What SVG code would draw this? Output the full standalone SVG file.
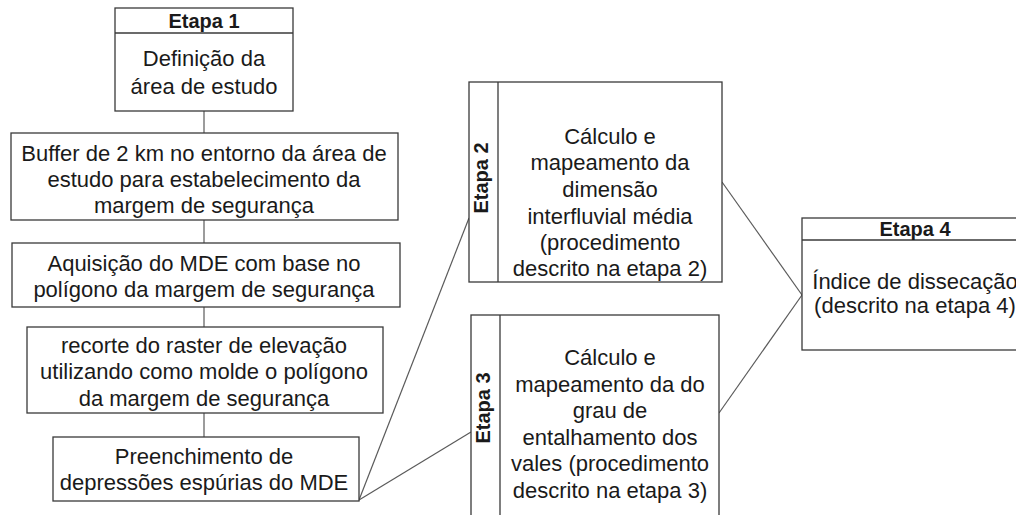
<svg xmlns="http://www.w3.org/2000/svg" width="1016" height="515" viewBox="0 0 1016 515">
<style>
.box{fill:#fff;stroke:#3a3a3a;stroke-width:1.3}
.conn{fill:none;stroke:#5a5a5a;stroke-width:1.2}
text{font-family:"Liberation Sans",Arial,sans-serif;font-size:22px;fill:#1a1a1a;text-anchor:middle}
.b{font-weight:bold;font-size:20px}
</style>
<rect width="1016" height="515" fill="#fff"/>
<g id="connectors">
<line class="conn" x1="204" y1="111" x2="204" y2="133"/>
<line class="conn" x1="204" y1="220" x2="204" y2="243"/>
<line class="conn" x1="204" y1="307" x2="204" y2="327"/>
<line class="conn" x1="204" y1="413" x2="204" y2="437"/>
<line class="conn" x1="359" y1="500" x2="469" y2="218"/>
<line class="conn" x1="359" y1="500" x2="471" y2="432"/>
<line class="conn" x1="722" y1="182" x2="802" y2="295"/>
<line class="conn" x1="719" y1="413" x2="802" y2="295"/>
</g>
<g id="etapa1">
<rect class="box" x="115" y="8" width="178" height="103"/>
<line class="box" x1="115" y1="33" x2="293" y2="33"/>
<text class="b" x="204" y="28">Etapa 1</text>
<text x="204" y="66">Definição da</text>
<text x="204" y="94">área de estudo</text>
</g>
<g id="buffer">
<rect class="box" x="11" y="133" width="387" height="87"/>
<text x="204" y="161">Buffer de 2 km no entorno da área de</text>
<text x="204" y="187">estudo para estabelecimento da</text>
<text x="204" y="213">margem de segurança</text>
</g>
<g id="aquisicao">
<rect class="box" x="12" y="243" width="388" height="64"/>
<text x="204" y="271">Aquisição do MDE com base no</text>
<text x="204" y="297">polígono da margem de segurança</text>
</g>
<g id="recorte">
<rect class="box" x="27" y="327" width="356" height="86"/>
<text x="204" y="353">recorte do raster de elevação</text>
<text x="204" y="379">utilizando como molde o polígono</text>
<text x="204" y="406">da margem de segurança</text>
</g>
<g id="preenchimento">
<rect class="box" x="53" y="437" width="306" height="64"/>
<text x="204" y="464">Preenchimento de</text>
<text x="204" y="490">depressões espúrias do MDE</text>
</g>
<g id="etapa2">
<rect class="box" x="469" y="82" width="253" height="200"/>
<line class="box" x1="498" y1="82" x2="498" y2="282"/>
<text class="b" transform="translate(488 178) rotate(-90)">Etapa 2</text>
<text x="610" y="144">Cálculo e</text>
<text x="610" y="170">mapeamento da</text>
<text x="610" y="197">dimensão</text>
<text x="610" y="224">interfluvial média</text>
<text x="610" y="250">(procedimento</text>
<text x="610" y="276">descrito na etapa 2)</text>
</g>
<g id="etapa3">
<rect class="box" x="471" y="315" width="248" height="210"/>
<line class="box" x1="500" y1="315" x2="500" y2="515"/>
<text class="b" transform="translate(490 408) rotate(-90)">Etapa 3</text>
<text x="610" y="365">Cálculo e</text>
<text x="610" y="392">mapeamento da do</text>
<text x="610" y="418">grau de</text>
<text x="610" y="445">entalhamento dos</text>
<text x="610" y="471">vales (procedimento</text>
<text x="610" y="498">descrito na etapa 3)</text>
</g>
<g id="etapa4">
<rect class="box" x="802" y="218" width="230" height="132"/>
<line class="box" x1="802" y1="240" x2="1032" y2="240"/>
<text class="b" x="915" y="236">Etapa 4</text>
<text x="915" y="289">Índice de dissecação</text>
<text x="915" y="313">(descrito na etapa 4)</text>
</g>
</svg>
